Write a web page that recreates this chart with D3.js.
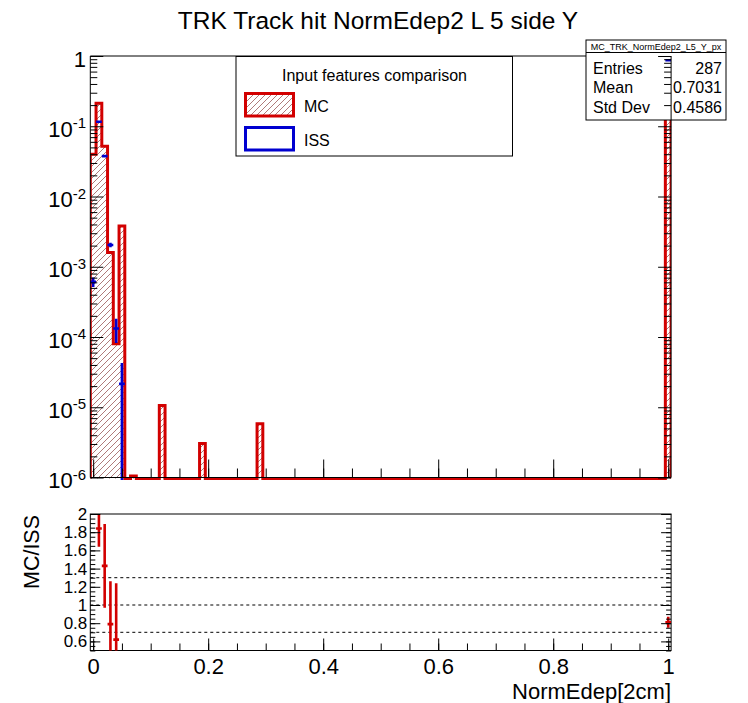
<!DOCTYPE html>
<html><head><meta charset="utf-8">
<script src="https://cdn.jsdelivr.net/npm/d3@7"></script>
<style>
body{margin:0;background:#fff}
svg{display:block}
text{font-family:"Liberation Sans",Arial,Helvetica,sans-serif}
</style>
</head><body>
<svg id="c" width="748" height="703"></svg>
<script>
// Histogram binning: 0.01-wide bins centred on 0, 0.01, ..., 1.00
const binWidth = 0.01;
const nBins = 101;
const xDomain = [-0.005, 1.005];

// MC (normalised), non-empty bins
const mcCenters = [0.00, 0.01, 0.02, 0.03, 0.04, 0.05, 0.07, 0.12, 0.19, 0.29, 1.00];
const mcValues  = [0.040, 0.213, 0.052, 1.6e-3, 8.0e-5, 3.8e-3, 1.05e-6, 1.06e-5, 3.05e-6, 5.8e-6, 0.705];

// ISS (normalised) points with errors
const issCenters = [0.00, 0.01, 0.02, 0.03, 0.04, 0.05, 1.00];
const issValues  = [6.1e-4, 0.116, 0.0376, 2.04e-3, 1.32e-4, 2.15e-5, 0.87];
const issErrors  = [9.5e-5, 0.003, 0.0012, 1.5e-4, 5.0e-5, 2.12e-5, 0.012];

// MC/ISS ratio
const ratioCenters = [0.01, 0.02, 0.03, 0.04, 1.00];
const ratioValues  = [1.84, 1.43, 0.79, 0.62, 0.81];
const ratioErrors  = [0.20, 0.46, 0.47, 0.62, 0.06];

const ratioRefLines = [0.7, 1.0, 1.3];
const xTickValues = [0, 0.2, 0.4, 0.6, 0.8, 1];
const xTickLabels = ["0", "0.2", "0.4", "0.6", "0.8", "1"];
const ratioTickValues = [0.6, 0.8, 1.0, 1.2, 1.4, 1.6, 1.8, 2.0];
const ratioTickLabels = ["0.6", "0.8", "1", "1.2", "1.4", "1.6", "1.8", "2"];
const logDecades = [0, -1, -2, -3, -4, -5, -6];

const titleText = "TRK Track hit NormEdep2 L 5 side Y";
const legendTitle = "Input features comparison";
const legendNames = ["MC", "ISS"];
const statsTitle = "MC_TRK_NormEdep2_L5_Y_px";
const statsNames = ["Entries", "Mean", "Std Dev"];
const statsValues = ["287", "0.7031", "0.4586"];

const RED = "#d20000", BLUE = "#0000d0", HATCH = "#9a5858";
const FONT = '"Liberation Sans",Arial,Helvetica,sans-serif';

const svg = d3.select("#c");
svg.append("rect").attr("width", 748).attr("height", 703).attr("fill", "#fff");

const defs = svg.append("defs");
const pat = defs.append("pattern").attr("id", "hatch").attr("patternUnits", "userSpaceOnUse")
  .attr("width", 6).attr("height", 6);
pat.append("path").attr("d", "M0,6 L6,0 M-1,1 L1,-1 M5,7 L7,5")
  .attr("stroke", HATCH).attr("stroke-width", 0.8).attr("fill", "none");

// geometry
const L = 90.3, R = 671.1;
const T1 = 56, B1 = 477.5;     // upper pad frame
const T2 = 514, B2 = 650.5;    // ratio pad frame

const x = d3.scaleLinear().domain(xDomain).range([L, R]);
const y = d3.scaleLog().domain([1e-6, 1]).range([B1, T1]);
const yr = d3.scaleLinear().domain([0.5, 2]).range([B2, T2]);

defs.append("clipPath").attr("id", "clipTop").append("rect")
  .attr("x", L).attr("y", T1).attr("width", R - L).attr("height", B1 - T1 + 2.5);
defs.append("clipPath").attr("id", "clipBot").append("rect")
  .attr("x", L).attr("y", T2).attr("width", R - L).attr("height", B2 - T2);

// title
svg.append("text").attr("x", 378).attr("y", 29).attr("text-anchor", "middle")
  .attr("font-size", 24.5).text(titleText);

// ---------- upper pad ----------
svg.append("line").attr("x1", L).attr("x2", R).attr("y1", T1).attr("y2", T1)
  .attr("stroke", "#000").attr("stroke-width", 1);

// full MC contents per bin (empty bins are zero)
const mcByBin = new Map(mcCenters.map((c, i) => [Math.round(c / binWidth), mcValues[i]]));
const mcBins = d3.range(nBins).map(i => ({
  lo: xDomain[0] + i * binWidth,
  hi: xDomain[0] + (i + 1) * binWidth,
  v: mcByBin.get(i) || 0
}));
const yFloor = B1 + 1;
const yOf = v => (v > 1e-6 ? y(v) : yFloor);
const stepPts = [[x(xDomain[0]), yFloor]];
mcBins.forEach(b => { stepPts.push([x(b.lo), yOf(b.v)]); stepPts.push([x(b.hi), yOf(b.v)]); });
stepPts.push([x(xDomain[1]), yFloor]);

const gTop = svg.append("g").attr("clip-path", "url(#clipTop)");
gTop.append("path").datum(stepPts)
  .attr("d", d3.area().x(d => d[0]).y0(yFloor).y1(d => d[1]))
  .attr("fill", "url(#hatch)");
gTop.append("path").datum(stepPts)
  .attr("d", d3.line().x(d => d[0]).y(d => d[1]))
  .attr("fill", "none").attr("stroke", RED).attr("stroke-width", 3);

// statistics box
const sbX = 586, sbY = 40, sbW = 140, sbH = 80;
const sb = svg.append("g");
sb.append("rect").attr("x", sbX).attr("y", sbY).attr("width", sbW).attr("height", sbH)
  .attr("fill", "#fff").attr("stroke", "#000").attr("stroke-width", 1);
sb.append("line").attr("x1", sbX).attr("x2", sbX + sbW).attr("y1", sbY + 12.5).attr("y2", sbY + 12.5)
  .attr("stroke", "#000").attr("stroke-width", 1);
sb.append("text").attr("x", sbX + sbW / 2).attr("y", sbY + 9.5).attr("text-anchor", "middle")
  .attr("font-size", 9).text(statsTitle);
statsNames.forEach((n, i) => {
  const by = sbY + 34 + i * 19.3;
  sb.append("text").attr("x", sbX + 7).attr("y", by).attr("font-size", 16).text(n);
  sb.append("text").attr("x", sbX + sbW - 4).attr("y", by).attr("text-anchor", "end")
    .attr("font-size", 16).text(statsValues[i]);
});

// legend
const lg = svg.append("g");
lg.append("rect").attr("x", 236).attr("y", 56.5).attr("width", 276.5).attr("height", 99.5)
  .attr("fill", "#fff").attr("stroke", "#000").attr("stroke-width", 1);
lg.append("text").attr("x", 374.5).attr("y", 81).attr("text-anchor", "middle")
  .attr("font-size", 16).text(legendTitle);
const swatchY = [93.5, 127.5];
legendNames.forEach((n, i) => {
  lg.append("rect").attr("x", 245.5).attr("y", swatchY[i]).attr("width", 48).attr("height", 22.5)
    .attr("fill", i === 0 ? "url(#hatch)" : "#fff")
    .attr("stroke", i === 0 ? RED : BLUE).attr("stroke-width", 3);
  lg.append("text").attr("x", 304).attr("y", swatchY[i] + 18.5).attr("font-size", 16).text(n);
});

// ISS points
const gIss = svg.append("g").attr("clip-path", "url(#clipTop)")
  .attr("stroke", BLUE).attr("stroke-width", 2.6).attr("fill", "none");
issCenters.forEach((c, i) => {
  const v = issValues[i], e = issErrors[i];
  const lo = v - e > 1e-7 ? y(v - e) : B1 + 2;
  gIss.append("line").attr("x1", x(c)).attr("x2", x(c)).attr("y1", y(v + e)).attr("y2", lo);
  gIss.append("line").attr("x1", x(c - binWidth / 2)).attr("x2", x(c + binWidth / 2))
    .attr("y1", y(v)).attr("y2", y(v));
});

// upper pad axes
const topMajors = logDecades.map(k => Math.pow(10, k));
const topMinors = [];
for (let k = -6; k < 0; k++) for (let m = 2; m <= 9; m++) topMinors.push(m * Math.pow(10, k));
const xMinor = d3.range(0, 21).map(i => i * 0.05);

function styleAxis(g) {
  g.attr("color", "#000");
  g.selectAll("path,line").attr("stroke-width", 1);
  return g;
}
styleAxis(svg.append("g").attr("transform", `translate(${L},0)`)
  .call(d3.axisLeft(y).tickValues(topMinors).tickSizeInner(-7).tickSizeOuter(0).tickFormat("")));
styleAxis(svg.append("g").attr("transform", `translate(${L},0)`)
  .call(d3.axisLeft(y).tickValues(topMajors).tickSizeInner(-13).tickSizeOuter(0).tickFormat("")));
styleAxis(svg.append("g").attr("transform", `translate(${R},0)`)
  .call(d3.axisRight(y).tickValues(topMinors).tickSizeInner(-7).tickSizeOuter(0).tickFormat("")));
styleAxis(svg.append("g").attr("transform", `translate(${R},0)`)
  .call(d3.axisRight(y).tickValues(topMajors).tickSizeInner(-13).tickSizeOuter(0).tickFormat("")));
styleAxis(svg.append("g").attr("transform", `translate(0,${B1})`)
  .call(d3.axisBottom(x).tickValues(xMinor).tickSizeInner(-9).tickSizeOuter(0).tickFormat("")));
styleAxis(svg.append("g").attr("transform", `translate(0,${B1})`)
  .call(d3.axisBottom(x).tickValues(xTickValues).tickSizeInner(-18).tickSizeOuter(0).tickFormat("")));

// log labels: 1, 10^-1 ... 10^-6
const yLab = svg.append("g").attr("font-family", FONT);
logDecades.forEach(k => {
  const ty = y(Math.pow(10, k)) + 10.5;
  const t = yLab.append("text").attr("x", 86).attr("y", ty).attr("text-anchor", "end").attr("font-size", 22);
  if (k === 0) { t.text("1"); return; }
  t.append("tspan").text("10");
  t.append("tspan").attr("font-size", 15).attr("dy", -8.5).text("-" + (-k));
});

// ---------- ratio pad ----------
svg.append("rect").attr("x", L).attr("y", T2).attr("width", R - L).attr("height", B2 - T2)
  .attr("fill", "none").attr("stroke", "#000").attr("stroke-width", 1);
svg.append("g").selectAll("line").data(ratioRefLines).join("line")
  .attr("x1", L).attr("x2", R).attr("y1", d => yr(d)).attr("y2", d => yr(d))
  .attr("stroke", "#000").attr("stroke-width", 1).attr("stroke-dasharray", "3,3");

const gRat = svg.append("g").attr("clip-path", "url(#clipBot)")
  .attr("stroke", RED).attr("stroke-width", 2.6);
ratioCenters.forEach((c, i) => {
  const v = ratioValues[i], e = ratioErrors[i];
  gRat.append("line").attr("x1", x(c)).attr("x2", x(c)).attr("y1", yr(v + e)).attr("y2", yr(v - e));
  gRat.append("line").attr("x1", x(c - binWidth / 2)).attr("x2", x(c + binWidth / 2))
    .attr("y1", yr(v)).attr("y2", yr(v));
});

const rMinor = d3.range(0, 31).map(i => 0.5 + i * 0.05);
styleAxis(svg.append("g").attr("transform", `translate(${L},0)`)
  .call(d3.axisLeft(yr).tickValues(rMinor).tickSizeInner(-5).tickSizeOuter(0).tickFormat("")));
const rAxis = styleAxis(svg.append("g").attr("transform", `translate(${L},0)`)
  .call(d3.axisLeft(yr).tickValues(ratioTickValues).tickSizeInner(-10).tickSizeOuter(0).tickPadding(3)
    .tickFormat((d, i) => ratioTickLabels[i])));
rAxis.attr("font-size", 17).attr("font-family", FONT);
styleAxis(svg.append("g").attr("transform", `translate(${R},0)`)
  .call(d3.axisRight(yr).tickValues(rMinor).tickSizeInner(-5).tickSizeOuter(0).tickFormat("")));
styleAxis(svg.append("g").attr("transform", `translate(${R},0)`)
  .call(d3.axisRight(yr).tickValues(ratioTickValues).tickSizeInner(-10).tickSizeOuter(0).tickFormat("")));
styleAxis(svg.append("g").attr("transform", `translate(0,${B2})`)
  .call(d3.axisBottom(x).tickValues(xMinor).tickSizeInner(-7).tickSizeOuter(0).tickFormat("")));
const xAxis = styleAxis(svg.append("g").attr("transform", `translate(0,${B2})`)
  .call(d3.axisBottom(x).tickValues(xTickValues).tickSizeInner(-12).tickSizeOuter(0).tickPadding(8)
    .tickFormat((d, i) => xTickLabels[i])));
xAxis.attr("font-size", 22).attr("font-family", FONT);
svg.selectAll(".domain").remove();
svg.append("line").attr("x1", L).attr("x2", L).attr("y1", T1).attr("y2", B1).attr("stroke", "#000");
svg.append("line").attr("x1", R).attr("x2", R).attr("y1", T1).attr("y2", B1).attr("stroke", "#000");
svg.append("line").attr("x1", L).attr("x2", R).attr("y1", B1).attr("y2", B1).attr("stroke", "#000");

// axis titles
svg.append("text").attr("transform", "translate(39,552) rotate(-90)").attr("text-anchor", "middle")
  .attr("font-size", 21.5).text("MC/ISS");
svg.append("text").attr("x", 671).attr("y", 699).attr("text-anchor", "end")
  .attr("font-size", 22).text("NormEdep[2cm]");
</script>
</body></html>
